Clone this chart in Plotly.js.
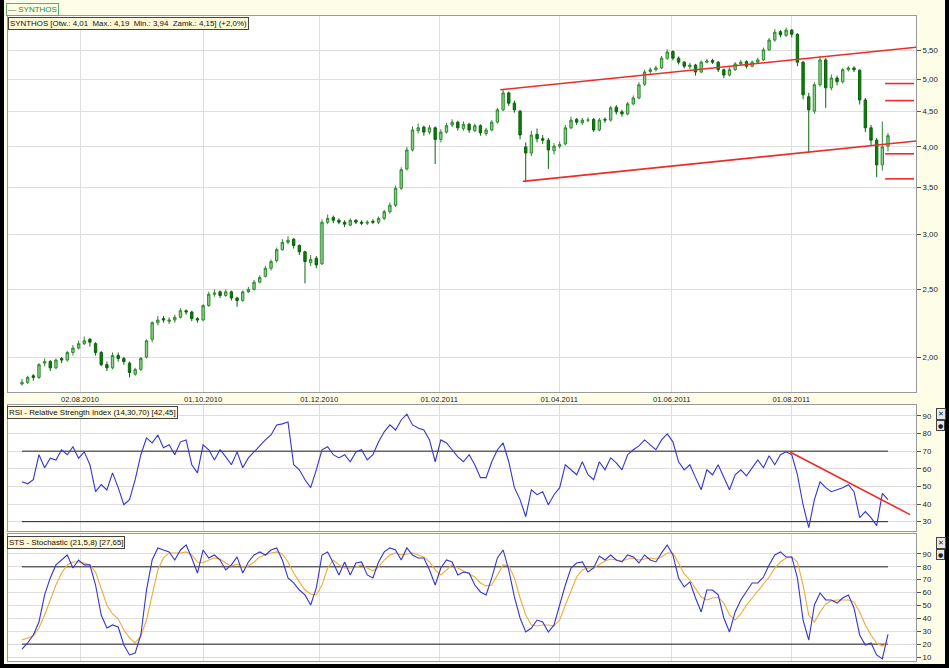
<!DOCTYPE html>
<html><head><meta charset="utf-8">
<script src="https://cdn.plot.ly/plotly-3.0.1.min.js"></script>
<style>html,body{margin:0;padding:0;background:#000;}#chart{width:949px;height:668px;}</style>
</head><body><div id="chart"></div>
<script>
// ---- x axis (session index, one point every 2nd session) ----
const dateTickPos  = [10.25, 32.0, 52.5, 73.7, 94.9, 114.8, 135.9];
const dateTickText = ["02.08.2010","01.10.2010","01.12.2010","01.02.2011","01.04.2011","01.06.2011","01.08.2011"];

// ---- price (PLN) ----
const priceOpen = [
1.83,1.84,1.88,1.87,1.96,1.97,1.93,1.99,1.98,2.03,
2.06,2.09,2.12,2.09,2.03,1.95,1.93,2.01,1.99,1.96,
1.89,1.92,2.00,2.12,2.24,2.27,2.25,2.26,2.28,2.33,
2.32,2.27,2.26,2.37,2.46,2.48,2.45,2.48,2.43,2.41,
2.48,2.50,2.56,2.61,2.68,2.75,2.85,2.92,2.95,2.89,
2.83,2.73,2.77,2.72,3.12,3.17,3.14,3.12,3.09,3.14,
3.12,3.11,3.13,3.12,3.16,3.23,3.30,3.49,3.72,3.96,
4.22,4.27,4.20,4.26,4.10,4.20,4.30,4.34,4.25,4.31,
4.22,4.29,4.18,4.23,4.34,4.52,4.78,4.62,4.50,4.00,
3.92,4.17,4.11,4.09,3.95,4.01,4.04,4.26,4.38,4.33,
4.37,4.38,4.23,4.38,4.37,4.56,4.49,4.46,4.61,4.70,
4.92,5.13,5.16,5.19,5.36,5.48,5.36,5.29,5.21,5.24,
5.12,5.29,5.32,5.29,5.16,5.07,5.16,5.26,5.30,5.22,
5.29,5.33,5.51,5.69,5.85,5.78,5.88,5.80,5.29,4.72,
4.50,4.91,5.33,4.86,5.02,4.96,5.16,5.19,5.15,4.67,
4.26,4.09,3.77,4.01];
const priceHigh = [
1.86,1.88,1.89,1.96,1.99,1.98,1.99,2.00,2.04,2.08,
2.11,2.14,2.13,2.10,2.04,1.97,2.03,2.03,2.00,1.97,
1.93,2.00,2.12,2.25,2.29,2.29,2.28,2.30,2.35,2.34,
2.33,2.28,2.38,2.48,2.50,2.49,2.50,2.49,2.44,2.49,
2.52,2.58,2.62,2.70,2.76,2.87,2.95,2.98,2.96,2.90,
2.84,2.80,2.79,3.15,3.20,3.19,3.16,3.14,3.16,3.15,
3.14,3.14,3.15,3.18,3.25,3.33,3.52,3.74,4.00,4.28,
4.32,4.29,4.30,4.28,4.24,4.33,4.38,4.36,4.35,4.33,
4.32,4.31,4.26,4.37,4.55,4.84,4.80,4.66,4.52,4.06,
4.22,4.25,4.16,4.12,4.05,4.07,4.30,4.42,4.40,4.40,
4.41,4.40,4.40,4.41,4.58,4.59,4.52,4.64,4.74,4.95,
5.16,5.20,5.23,5.40,5.52,5.50,5.39,5.31,5.28,5.26,
5.32,5.35,5.35,5.31,5.18,5.20,5.29,5.33,5.32,5.32,
5.37,5.55,5.73,5.90,5.88,5.93,5.90,5.82,5.31,4.78,
4.95,5.40,5.36,5.08,5.06,5.19,5.22,5.22,5.17,4.70,
4.30,4.12,4.35,4.19];
const priceLow = [
1.82,1.83,1.85,1.86,1.94,1.91,1.92,1.96,1.97,2.01,
2.05,2.08,2.07,2.01,1.94,1.91,1.92,1.97,1.95,1.87,
1.88,1.91,1.99,2.10,2.22,2.24,2.23,2.24,2.27,2.30,
2.25,2.24,2.25,2.36,2.44,2.43,2.44,2.41,2.36,2.40,
2.47,2.49,2.55,2.60,2.66,2.73,2.84,2.90,2.86,2.80,
2.55,2.70,2.68,2.71,3.10,3.11,3.10,3.07,3.08,3.10,
3.09,3.09,3.10,3.10,3.14,3.21,3.28,3.47,3.70,3.94,
4.18,4.15,4.17,3.78,4.06,4.18,4.27,4.22,4.22,4.19,
4.20,4.15,4.15,4.21,4.32,4.50,4.58,4.48,4.10,3.56,
3.88,4.06,4.04,3.72,3.90,3.98,4.02,4.24,4.30,4.30,
4.34,4.20,4.21,4.33,4.35,4.45,4.42,4.44,4.59,4.68,
4.89,5.08,5.13,5.17,5.33,5.32,5.25,5.18,5.17,5.06,
5.10,5.27,5.26,5.12,5.02,5.05,5.14,5.23,5.18,5.20,
5.26,5.31,5.49,5.66,5.74,5.75,5.74,5.22,4.68,3.92,
4.46,4.88,4.55,4.82,4.90,4.93,5.13,5.12,4.60,4.20,
4.02,3.62,3.70,3.94];
const priceClose = [
1.84,1.87,1.87,1.95,1.97,1.93,1.98,1.98,2.03,2.06,
2.09,2.11,2.10,2.03,1.95,1.93,2.01,1.99,1.97,1.90,
1.92,1.99,2.11,2.24,2.26,2.26,2.26,2.28,2.33,2.32,
2.27,2.26,2.37,2.46,2.47,2.45,2.48,2.43,2.41,2.48,
2.50,2.56,2.60,2.68,2.74,2.85,2.92,2.94,2.89,2.83,
2.74,2.76,2.71,3.12,3.16,3.14,3.12,3.10,3.14,3.12,
3.11,3.12,3.12,3.16,3.23,3.30,3.49,3.71,3.96,4.23,
4.26,4.20,4.26,4.10,4.20,4.29,4.34,4.26,4.31,4.23,
4.29,4.19,4.23,4.34,4.52,4.78,4.62,4.52,4.16,3.92,
4.16,4.11,4.09,3.96,4.01,4.03,4.26,4.37,4.34,4.37,
4.37,4.23,4.37,4.37,4.55,4.49,4.46,4.61,4.70,4.91,
5.12,5.16,5.19,5.36,5.47,5.36,5.29,5.22,5.24,5.12,
5.29,5.31,5.29,5.16,5.07,5.16,5.26,5.29,5.22,5.29,
5.33,5.51,5.69,5.84,5.79,5.88,5.80,5.29,4.75,4.52,
4.91,5.33,4.86,5.02,4.96,5.16,5.19,5.16,4.67,4.26,
4.09,3.77,4.00,4.15];
const priceTicks = [2.0, 2.5, 3.0, 3.5, 4.0, 4.5, 5.0, 5.5];

// trend channel and levels drawn on the price panel
const channelUpperX = [84.5, 162], channelUpperY = [4.83, 5.60];
const channelLowerX = [88.5, 162], channelLowerY = [3.57, 4.11];
const levelX = [152.5, 157.6];
const levels = [4.93, 4.66, 3.91, 3.60];

// ---- RSI (14,30,70) ----
const rsi = [
52.6,51.5,53.8,68,60.6,66,65,70.8,68,72.5,
66,69.6,62.3,47,51,48,57.7,49.3,39.6,42.5,
53.8,68,77.5,74.7,79.2,71.9,73.6,68,75.3,76.4,
62.3,57.7,73.6,70.8,65,70.8,66.8,62.3,69.6,60.6,
66.2,69.6,73.6,76.4,79.2,84.9,85.5,86.6,62.3,59.4,
53.8,49.3,59.4,70.8,72.5,68,66.2,68,64,69.6,
70.8,65,68,75.3,81,84.9,82,87.7,91,84.9,
83.2,82,76.4,64,76.4,74.7,70.8,66.8,64,68,
62.3,55,55,64,70.8,74.7,64,49.3,42.5,32.8,
48.1,45.3,47,39.6,45.3,49.3,62.3,59.4,56.6,64,
56.6,53.8,64,59.4,66.2,63.4,59.4,68,70.8,73,
76.4,73.6,70.8,76.4,79.8,75.3,64,59.4,62.3,55,
48.1,59.4,56.6,62.3,55,48.1,56.6,59.4,56,60.6,
65,60.6,67.4,62.3,68,69.6,68,56.6,39.6,26.6,
42.5,52.6,49.3,47,48.1,49.3,51,47,32.3,35.7,
32.3,27.7,46,42.45];
const rsiLevels = [30, 70];
const rsiTicks = [30, 40, 50, 60, 70, 80, 90];
const rsiTrendX = [135.7, 156.9], rsiTrendY = [69.5, 34];

// ---- Stochastic (21,5,8) ----
const stoK = [
16.2,20.9,27.1,37.2,58.2,71.4,81.5,85.3,89.2,79.1,
85.3,81.5,81.5,65.9,42.6,32.5,34.9,33.3,19.3,11.6,
13.1,27.1,62,85.3,94.7,93.1,91.6,85.3,93.1,97,
86.9,75.2,93.1,86.9,89.2,85.3,77.6,81.5,87.7,75.2,
83.8,89.2,91.6,89.2,93.1,94.7,85.3,71.4,67.5,62,
58.2,50.4,63.6,89.2,91.6,83,73.7,83.8,73.7,83,
83.8,73.7,71.4,83.8,91.6,94.7,93.1,85.3,94.7,89.2,
86.9,86.9,77.6,65.9,79.1,85.3,83.8,73.7,76,75.2,
65.9,60.5,58.2,71.4,86.9,93.1,77.6,56.6,40.3,29.4,
32.5,38.7,37.2,29.4,34.9,50.4,65.9,79.1,83,83.8,
76,79.1,88.4,85.3,89.2,85.3,83.8,89.2,87.7,83,
89.2,85.3,83.8,90.8,97,89.2,71.4,64.4,68.3,55.8,
45,62,62,58.2,40.3,29.4,45,54.3,60.5,67.5,
67.5,72.1,81.5,89.2,91.6,87.7,87.7,71.4,38.7,23.2,
50.4,59.7,54.3,54.3,51.9,55.8,58.2,48.1,27.1,19.3,
20.9,11.6,8.5,27.65];
const stoD = [
23.2,24.8,26.3,32.5,42.6,54.3,65.9,75.2,81.5,83.8,
83.8,83,81.5,76,63.6,50.4,43.4,39.5,31,24.8,
20.9,26.3,38.7,58.2,77.6,86.9,90.8,90.8,90.8,91.6,
89.2,83.8,83,85.3,86.9,86.1,83,80.7,82.2,79.9,
80.7,83.8,87.7,89.2,90.8,91.6,90,83.8,75.2,68.3,
62,58.9,58.2,65.9,79.1,85.3,81.5,79.1,79.1,79.9,
81.5,79.1,76.8,79.9,85.3,89.2,90.8,89.2,90,90.8,
89.2,87.7,83.8,77.6,73.7,77.6,81.5,79.1,76.8,74.5,
72.1,67.5,65.2,65.9,73.7,81.5,80.7,71.4,55.8,42.6,
34.9,34.1,34.9,34.9,34.1,38.7,50.4,62,72.1,77.6,
79.1,79.1,82.2,84.6,86.1,85.3,84.6,86.1,86.9,85.3,
86.1,86.9,86.1,87.7,90.8,90.8,83,74.5,69.8,63.6,
56.6,54.3,55.8,56.6,51.9,42.6,38.7,43.4,50.4,55.8,
61.3,65.9,72.1,79.1,83.8,86.9,87.7,83.8,65.9,42.6,
37.2,45,51.2,53.6,54.3,54.3,54.3,52.7,45,34.9,
27.1,20.9,18.5,20.9];
const stoLevels = [20, 80];
const stoTicks = [10, 20, 30, 40, 50, 60, 70, 80, 90];

// ---- build ----
const FONT = "'Liberation Sans', Arial, sans-serif";
const lastIdx = priceClose.length - 1;
const traces = [];

traces.push({
  type: 'candlestick', xaxis: 'x', yaxis: 'y',
  open: priceOpen, high: priceHigh, low: priceLow, close: priceClose,
  increasing: {line: {color: '#2e8a2e', width: 1}, fillcolor: '#8fd08f'},
  decreasing: {line: {color: '#0a650a', width: 1}, fillcolor: '#0d7d0d'},
  whiskerwidth: 0, hoverinfo: 'skip', showlegend: false
});
const red = '#ee2b2b';
traces.push({type:'scatter', mode:'lines', x: channelUpperX, y: channelUpperY, xaxis:'x', yaxis:'y', line:{color:red, width:1.6}, hoverinfo:'skip', showlegend:false});
traces.push({type:'scatter', mode:'lines', x: channelLowerX, y: channelLowerY, xaxis:'x', yaxis:'y', line:{color:red, width:1.6}, hoverinfo:'skip', showlegend:false});
levels.forEach(v => traces.push({type:'scatter', mode:'lines', x: levelX, y: [v, v], xaxis:'x', yaxis:'y', line:{color:red, width:1.6}, hoverinfo:'skip', showlegend:false}));

rsiLevels.forEach(v => traces.push({type:'scatter', mode:'lines', x:[0, lastIdx], y:[v, v], xaxis:'x2', yaxis:'y2', line:{color:'#222', width:1}, hoverinfo:'skip', showlegend:false}));
traces.push({type:'scatter', mode:'lines', y: rsi, xaxis:'x2', yaxis:'y2', line:{color:'#3535cf', width:1.1}, hoverinfo:'skip', showlegend:false});
traces.push({type:'scatter', mode:'lines', x: rsiTrendX, y: rsiTrendY, xaxis:'x2', yaxis:'y2', line:{color:red, width:1.6}, hoverinfo:'skip', showlegend:false});

stoLevels.forEach(v => traces.push({type:'scatter', mode:'lines', x:[0, lastIdx], y:[v, v], xaxis:'x3', yaxis:'y3', line:{color:'#222', width:1}, hoverinfo:'skip', showlegend:false}));
traces.push({type:'scatter', mode:'lines', y: stoD, xaxis:'x3', yaxis:'y3', line:{color:'#f0aa35', width:1.1}, hoverinfo:'skip', showlegend:false});
traces.push({type:'scatter', mode:'lines', y: stoK, xaxis:'x3', yaxis:'y3', line:{color:'#3535cf', width:1.1}, hoverinfo:'skip', showlegend:false});

const W = 949, H = 668, ML = 8, MR = 33, MT = 16, MB = 7;
const PW = W - ML - MR, PH = H - MT - MB;
const px = x => (x - ML) / PW;          // page px -> paper x
const py = y => (H - MB - y) / PH;      // page px -> paper y

const gridC = '#dedede', lineC = '#9a9a9a';
const xBase = {range: [-2.47, 157.95], tickmode: 'array', tickvals: dateTickPos, ticktext: dateTickText,
  showgrid: true, gridcolor: gridC, gridwidth: 1, ticks: '', showline: true, mirror: true, linecolor: lineC,
  zeroline: false, fixedrange: true, rangeslider: {visible: false}, tickfont: {family: FONT, size: 7.6, color: '#222'}};
const yBase = {side: 'right', tickmode: 'array', ticks: 'outside', ticklen: 4, tickcolor: '#555', tickwidth: 1,
  showgrid: true, gridcolor: gridC, showline: true, mirror: true, linecolor: lineC, zeroline: false, fixedrange: true,
  tickfont: {family: FONT, size: 7.8, color: '#222'}};

const labelBox = {xref: 'paper', yref: 'paper', xanchor: 'left', yanchor: 'top', showarrow: false,
  bgcolor: '#fff8d6', bordercolor: '#444', borderwidth: 1, borderpad: 1,
  font: {family: FONT, size: 7.9, color: '#111'}};

const layout = {
  width: W, height: H, margin: {l: ML, r: MR, t: MT, b: MB, pad: 0},
  paper_bgcolor: '#fefde8', plot_bgcolor: '#ffffff', separators: ', ',
  showlegend: false, dragmode: false, boxgap: 0.4, boxgroupgap: 0.3,
  xaxis: Object.assign({}, xBase, {anchor: 'y', showticklabels: true}),
  xaxis2: Object.assign({}, xBase, {anchor: 'y2', matches: 'x', showticklabels: false}),
  xaxis3: Object.assign({}, xBase, {anchor: 'y3', matches: 'x', showticklabels: false}),
  yaxis: Object.assign({}, yBase, {domain: [py(392), 1], type: 'log', range: [0.2509, 0.7896], tickvals: priceTicks, tickformat: '.2f'}),
  yaxis2: Object.assign({}, yBase, {domain: [py(531), py(405)], range: [24.7, 96.2], tickvals: rsiTicks}),
  yaxis3: Object.assign({}, yBase, {domain: [0, py(534)], range: [6.9, 105.5], tickvals: stoTicks}),
  shapes: [
    {type:'rect', xref:'paper', yref:'paper', x0: px(0), x1: px(4), y0: py(668), y1: py(0), fillcolor:'#000', line:{width:0}, layer:'above'},
    {type:'rect', xref:'paper', yref:'paper', x0: px(945), x1: px(949), y0: py(668), y1: py(0), fillcolor:'#000', line:{width:0}, layer:'above'},
    {type:'rect', xref:'paper', yref:'paper', x0: px(0), x1: px(949), y0: py(668), y1: py(664), fillcolor:'#000', line:{width:0}, layer:'above'}
  ],
  annotations: [
    Object.assign({}, labelBox, {x: px(6), y: py(3), text: '<span style="color:#1f8f1f">—</span> SYNTHOS',
      bgcolor: '#fefde8', bordercolor: '#6aa86a', font: {family: FONT, size: 8, color: '#1f8f1f'}}),
    Object.assign({}, labelBox, {x: px(8), y: py(17), text: 'SYNTHOS [Otw.: 4,01  Max.: 4,19  Min.: 3,94  Zamk.: 4,15] (+2,0%)'}),
    Object.assign({}, labelBox, {x: px(7), y: py(406), text: 'RSI - Relative Strength Index (14,30,70) [42,45]'}),
    Object.assign({}, labelBox, {x: px(7), y: py(536), text: 'STS - Stochastic (21,5,8) [27,65]'}),
    Object.assign({}, labelBox, {x: px(936), y: py(408), text: '✕', bgcolor:'#e8e8e8', font:{family: 'DejaVu Sans', size: 7, color:'#222'}}),
    Object.assign({}, labelBox, {x: px(936), y: py(420), text: '●', bgcolor:'#e8e8e8', font:{family: 'DejaVu Sans', size: 6, color:'#222'}}),
    Object.assign({}, labelBox, {x: px(936), y: py(537), text: '✕', bgcolor:'#e8e8e8', font:{family: 'DejaVu Sans', size: 7, color:'#222'}}),
    Object.assign({}, labelBox, {x: px(936), y: py(549), text: '●', bgcolor:'#e8e8e8', font:{family: 'DejaVu Sans', size: 6, color:'#222'}})
  ]
};

Plotly.newPlot('chart', traces, layout, {displayModeBar: false, staticPlot: true});
</script></body></html>
